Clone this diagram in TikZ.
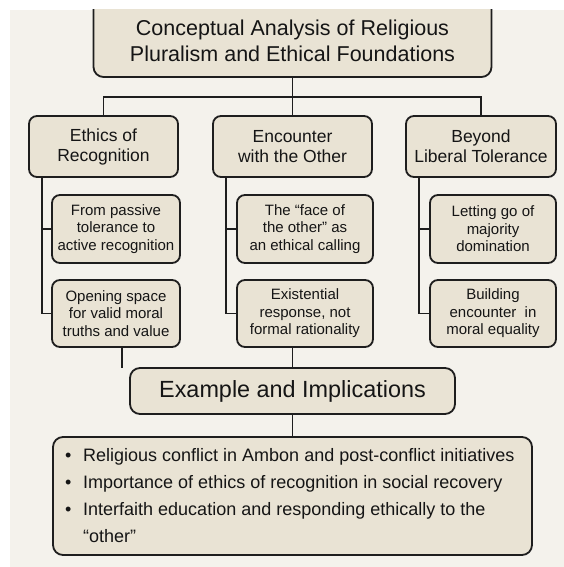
\documentclass[tikz,border=0pt]{standalone}
\usepackage{fontspec}
\setmainfont{Liberation Sans}
\definecolor{pagec}{HTML}{F4F2EC}
\definecolor{boxc}{HTML}{E9E3D4}
\definecolor{linec}{HTML}{1E1E1E}
\definecolor{textc}{HTML}{151515}
\begin{document}
\begin{tikzpicture}[x=1pt,y=-1pt,
  box/.style={draw=linec, fill=boxc, line width=1.8pt, rounded corners=8pt,
    align=center, text=textc, inner sep=0pt},
  headbox/.style={box, minimum height=61pt, font=\fontsize{17.5}{20}\selectfont},
  subbox/.style={box, minimum height=67pt, font=\fontsize{15}{17.5}\selectfont},
  conn/.style={draw=linec, line width=1.7pt}]
% page and its background
\useasboundingbox[fill=white] (0,0) rectangle (564,567);
\fill[pagec] (10,10) rectangle (564,567);

% title box, running off the top edge
\begin{scope}
  \clip (10,10) rectangle (564,567);
  \node[box, rounded corners=10pt, minimum width=398pt, minimum height=97pt] (top) at (292.5,28.5) {};
\end{scope}
\node[text=textc, align=center, font=\fontsize{21.5}{26}\selectfont] (title) at (292.5,41)
  {Conceptual Analysis of Religious\\Pluralism and Ethical Foundations};

% three headings
\node[headbox, minimum width=149pt] (ethics) at (103.5,146.5) {Ethics of\\Recognition};
\node[headbox, minimum width=159pt] (encounter) at (292.5,146.5) {Encounter\\with the Other};
\node[headbox, minimum width=150pt] (beyond) at (481,146.5) {Beyond\\Liberal Tolerance};

% sub-points
\node[subbox, minimum width=128pt, minimum height=68pt] (rec1) at (116,229) {From passive\\tolerance to\\active recognition};
\node[subbox, minimum width=128pt] (rec2) at (116,313.5) {Opening space\\for valid moral\\truths and value};
\node[subbox, minimum width=136pt, minimum height=68pt] (enc1) at (305,229) {The “face of\\the other” as\\an ethical calling};
\node[subbox, minimum width=136pt] (enc2) at (305,313.5) {Existential\\response, not\\formal rationality};
\node[subbox, minimum width=126pt, minimum height=68pt] (bey1) at (493,229) {Letting go of\\majority\\domination};
\node[subbox, minimum width=126pt] (bey2) at (493,313.5) {Building\\encounter\ \ in\\moral equality};

% example box and list
\node[box, rounded corners=10pt, minimum width=325pt, minimum height=46pt,
  font=\fontsize{23.4}{28}\selectfont] (example) at (292.5,391) {Example and Implications};
\node[box, rounded corners=10pt, minimum width=479pt, minimum height=118pt] (bullets) at (292.5,496) {};
\node[anchor=north west, align=left, inner sep=0pt, text=textc,
  font=\fontsize{18}{27}\selectfont] (items) at (65,448)
  {\makebox[18pt][l]{•}Religious conflict in Ambon and post-conflict initiatives\\
   \makebox[18pt][l]{•}Importance of ethics of recognition in social recovery\\
   \makebox[18pt][l]{•}Interfaith education and responding ethically to the\\
   \hspace*{18pt}“other”};

% connectors
\coordinate (bus) at (292.5,97);
\draw[conn] (top.south) -- (encounter.north);
\draw[conn] (ethics.north) |- (bus) -| (beyond.north);

\draw[conn] ([xshift=14pt]ethics.south west) |- (rec2.west);
\draw[conn] (rec1.west) -- ++(-9,0);
\draw[conn] ([xshift=14pt]encounter.south west) |- (enc2.west);
\draw[conn] (enc1.west) -- ++(-10,0);
\draw[conn] ([xshift=14pt]beyond.south west) |- (bey2.west);
\draw[conn] (bey1.west) -- ++(-10,0);

\coordinate (stubend) at (122,368);
\draw[conn] (rec2.south -| stubend) -- (stubend);
\draw[conn] (enc2.south -| example.north) -- (example.north);
\draw[conn] (example.south) -- (bullets.north);
\end{tikzpicture}
\end{document}
